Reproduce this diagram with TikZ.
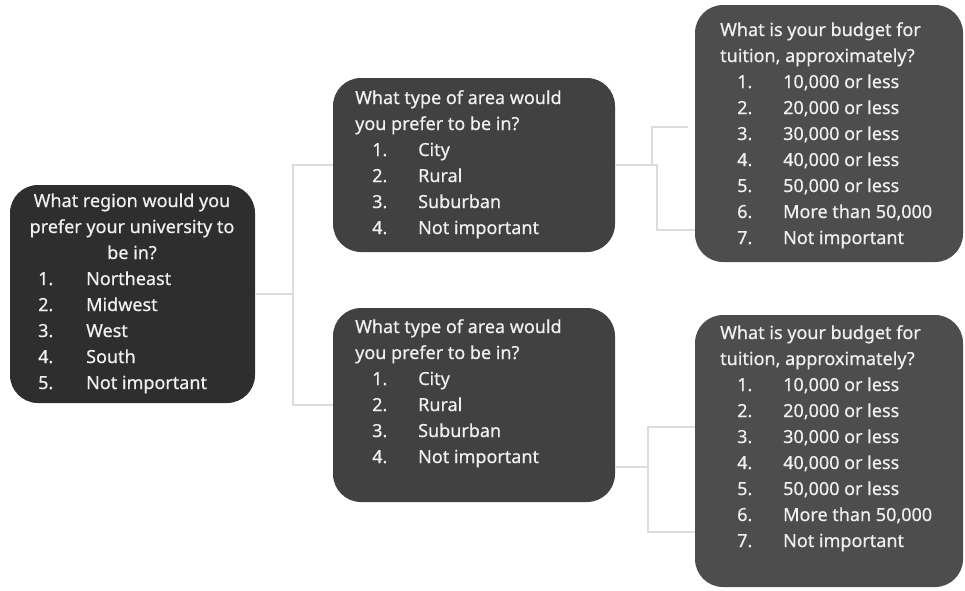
\documentclass[tikz,border=0pt]{standalone}
\usepackage{fontspec}
\setmainfont{Noto Sans}[FakeBold=0.5]

\definecolor{regionfill}{HTML}{2E2E2E}
\definecolor{areafill}{HTML}{414141}
\definecolor{budgetfill}{HTML}{4D4D4D}
\definecolor{linkgray}{HTML}{DCDCDC}
\definecolor{textwhite}{HTML}{F0F0F0}

% one numbered answer: indent, number, text
\newcommand{\choice}[2]{\hspace*{17pt}\makebox[46pt][l]{#1}#2}
\newcommand{\regchoice}[2]{\makebox[48pt][l]{#1}#2}

\begin{document}
\begin{tikzpicture}[x=1pt, y=-1pt,
  qbox/.style={rounded corners=28pt, draw=none, inner sep=0pt},
  qtext/.style={text=textwhite, inner sep=0pt, anchor=base west,
    font=\fontsize{18}{26}\selectfont},
  link/.style={draw=linkgray, line width=1.8pt}]
 \useasboundingbox (0,0) rectangle (965,590);

 % boxes
 \node[qbox, fill=regionfill, minimum width=245pt, minimum height=218pt] (region) at (132.5,294) {};
 \node[qbox, fill=areafill, minimum width=282pt, minimum height=174pt] (areaA) at (474,165) {};
 \node[qbox, fill=areafill, minimum width=282pt, minimum height=194pt] (areaB) at (474,405) {};
 \node[qbox, fill=budgetfill, minimum width=268pt, minimum height=257pt] (budgetA) at (829,133.5) {};
 \node[qbox, fill=budgetfill, minimum width=268pt, minimum height=272pt] (budgetB) at (829,451) {};

 % texts
 \node[qtext, anchor=base] (regionq) at (132,207)
   {\begin{tabular}[t]{@{}c@{}}What region would you\\prefer your university to\\be in?\end{tabular}};
 \node[qtext] (regionl) at (38,285)
   {\begin{tabular}[t]{@{}l@{}}\regchoice{1.}{Northeast}\\\regchoice{2.}{Midwest}\\
    \regchoice{3.}{West}\\\regchoice{4.}{South}\\\regchoice{5.}{Not important}\end{tabular}};
 \node[qtext] (areaAq) at (355,104)
   {\begin{tabular}[t]{@{}l@{}}What type of area would\\you prefer to be in?\\
    \choice{1.}{City}\\\choice{2.}{Rural}\\\choice{3.}{Suburban}\\\choice{4.}{Not important}\end{tabular}};
 \node[qtext] (areaBq) at (355,333)
   {\begin{tabular}[t]{@{}l@{}}What type of area would\\you prefer to be in?\\
    \choice{1.}{City}\\\choice{2.}{Rural}\\\choice{3.}{Suburban}\\\choice{4.}{Not important}\end{tabular}};
 \node[qtext] (budgetAq) at (720,36)
   {\begin{tabular}[t]{@{}l@{}}What is your budget for\\tuition, approximately?\\
    \choice{1.}{10,000 or less}\\\choice{2.}{20,000 or less}\\\choice{3.}{30,000 or less}\\
    \choice{4.}{40,000 or less}\\\choice{5.}{50,000 or less}\\\choice{6.}{More than 50,000}\\
    \choice{7.}{Not important}\end{tabular}};
 \node[qtext] (budgetBq) at (720,339)
   {\begin{tabular}[t]{@{}l@{}}What is your budget for\\tuition, approximately?\\
    \choice{1.}{10,000 or less}\\\choice{2.}{20,000 or less}\\\choice{3.}{30,000 or less}\\
    \choice{4.}{40,000 or less}\\\choice{5.}{50,000 or less}\\\choice{6.}{More than 50,000}\\
    \choice{7.}{Not important}\end{tabular}};

 % connectors
 \coordinate (jr) at (293,294);
 \coordinate (ja1) at (652,165);
 \coordinate (ja2) at (657,165);
 \coordinate (jb) at (648,467);
 \draw[link] (region.east) -- (jr) |- (areaA.west);
 \draw[link] (jr) |- (areaB.west);
 \draw[link] (areaA.east) -- (ja2) |- (budgetA.west |- 0,230);
 \draw[link, shorten >=7pt] (ja1) |- (budgetA.west |- 0,127);
 \draw[link] (areaB.east |- jb) -- (jb) |- (budgetB.west |- 0,427);
 \draw[link] (jb) |- (budgetB.west |- 0,532);
\end{tikzpicture}
\end{document}
